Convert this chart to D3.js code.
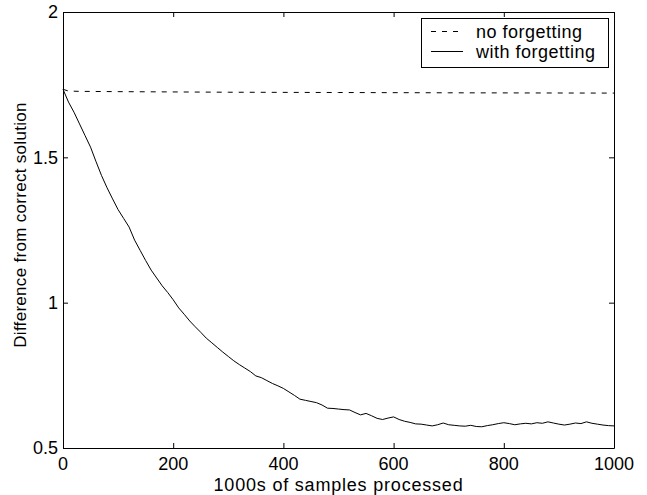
<!DOCTYPE html>
<html>
<head>
<meta charset="utf-8">
<script src="https://cdn.jsdelivr.net/npm/d3@7"></script>
<style>
  body { margin: 0; background: #fff; }
  svg { display: block; font-family: "Liberation Sans", Arial, Helvetica, sans-serif; }
</style>
</head>
<body>
<svg id="chart" width="647" height="495"></svg>
<script>
// samples processed (in 1000s)
const xTicks = [0, 200, 400, 600, 800, 1000];
const yTicks = [0.5, 1, 1.5, 2];
const yTickLabels = ['0.5', '1', '1.5', '2'];

const noForgetX = [0, 10, 30, 100, 300, 500, 700, 1000];
const noForgetY = [1.734, 1.728, 1.727, 1.726, 1.724, 1.723, 1.722, 1.721];

const withForgetX = d3.range(0, 1001, 10);
const withForgetY = [
  1.734, 1.690, 1.655, 1.615, 1.575, 1.535, 1.485, 1.437, 1.395, 1.357,
  1.320, 1.290, 1.260, 1.215, 1.180, 1.145, 1.112, 1.085, 1.058, 1.035,
  1.010, 0.982, 0.960, 0.937, 0.917, 0.898, 0.878, 0.862, 0.846, 0.830,
  0.815, 0.800, 0.787, 0.775, 0.763, 0.748, 0.742, 0.732, 0.722, 0.714,
  0.705, 0.693, 0.681, 0.668, 0.664, 0.660, 0.656, 0.648, 0.637, 0.636,
  0.634, 0.632, 0.631, 0.622, 0.614, 0.619, 0.611, 0.602, 0.598, 0.603,
  0.607, 0.598, 0.592, 0.588, 0.583, 0.582, 0.579, 0.576, 0.580, 0.586,
  0.580, 0.578, 0.576, 0.575, 0.578, 0.574, 0.573, 0.577, 0.580, 0.584,
  0.587, 0.584, 0.580, 0.583, 0.585, 0.583, 0.587, 0.585, 0.590, 0.586,
  0.582, 0.579, 0.582, 0.586, 0.584, 0.590, 0.585, 0.582, 0.579, 0.577,
  0.576
];

const svg = d3.select('#chart');
const plotLeft = 63, plotRight = 614, plotTop = 12, plotBottom = 448;
const fontSize = 18;
const dash = '5,6';

const x = d3.scaleLinear().domain([0, 1000]).range([plotLeft, plotRight]);
const y = d3.scaleLinear().domain([0.5, 2]).range([plotBottom, plotTop]);

const line = d3.line().x(d => x(d[0])).y(d => y(d[1]));

// curves
svg.append('path')
  .datum(d3.zip(noForgetX, noForgetY))
  .attr('fill', 'none')
  .attr('stroke', '#000')
  .attr('stroke-width', 1)
  .attr('stroke-dasharray', dash)
  .attr('d', line);

svg.append('path')
  .datum(d3.zip(withForgetX, withForgetY))
  .attr('fill', 'none')
  .attr('stroke', '#000')
  .attr('stroke-width', 1)
  .attr('d', line);

// axes, ticks inward on all four sides
const tickLen = 5;
const axes = [
  { axis: d3.axisBottom(x), at: `translate(0,${plotBottom})` },
  { axis: d3.axisTop(x), at: `translate(0,${plotTop})` },
  { axis: d3.axisLeft(y), at: `translate(${plotLeft},0)` },
  { axis: d3.axisRight(y), at: `translate(${plotRight},0)` }
];
axes.forEach((a, i) => {
  const isX = i < 2;
  a.axis.tickValues(isX ? xTicks : yTicks)
    .tickSizeInner(-tickLen)
    .tickSizeOuter(0)
    .tickFormat('');
  const g = svg.append('g').attr('transform', a.at).call(a.axis);
  g.select('.domain').attr('stroke', '#000').attr('stroke-width', 1);
  g.selectAll('.tick line').attr('stroke', '#000');
});

// tick labels
svg.append('g')
  .selectAll('text')
  .data(xTicks)
  .join('text')
  .attr('x', d => x(d))
  .attr('y', 470)
  .attr('text-anchor', 'middle')
  .attr('font-size', fontSize)
  .text(d => d);

svg.append('g')
  .selectAll('text')
  .data(yTicks)
  .join('text')
  .attr('x', plotLeft - 5)
  .attr('y', d => y(d))
  .attr('dy', '0.35em')
  .attr('text-anchor', 'end')
  .attr('font-size', fontSize)
  .text((d, i) => yTickLabels[i]);

// axis titles
svg.append('text')
  .attr('x', (plotLeft + plotRight) / 2)
  .attr('y', 491)
  .attr('text-anchor', 'middle')
  .attr('font-size', 18)
  .attr('letter-spacing', 0.8)
  .text('1000s of samples processed');

svg.append('text')
  .attr('transform', 'translate(26,225) rotate(-90)')
  .attr('text-anchor', 'middle')
  .attr('font-size', 17)
  .attr('letter-spacing', 0.3)
  .text('Difference from correct solution');

// legend
const legend = svg.append('g');
legend.append('rect')
  .attr('x', 421.5).attr('y', 18.5)
  .attr('width', 187).attr('height', 49)
  .attr('fill', '#fff')
  .attr('stroke', '#000');

const legendItems = [
  { label: 'no forgetting', dash: dash, y: 31.5 },
  { label: 'with forgetting', dash: null, y: 51.5 }
];
legendItems.forEach(item => {
  legend.append('line')
    .attr('x1', 431).attr('x2', 463)
    .attr('y1', item.y).attr('y2', item.y)
    .attr('stroke', '#000')
    .attr('stroke-dasharray', item.dash);
  legend.append('text')
    .attr('x', 476)
    .attr('y', item.y)
    .attr('dy', '0.35em')
    .attr('font-size', fontSize)
    .attr('letter-spacing', 0.5)
    .text(item.label);
});
</script>
</body>
</html>
